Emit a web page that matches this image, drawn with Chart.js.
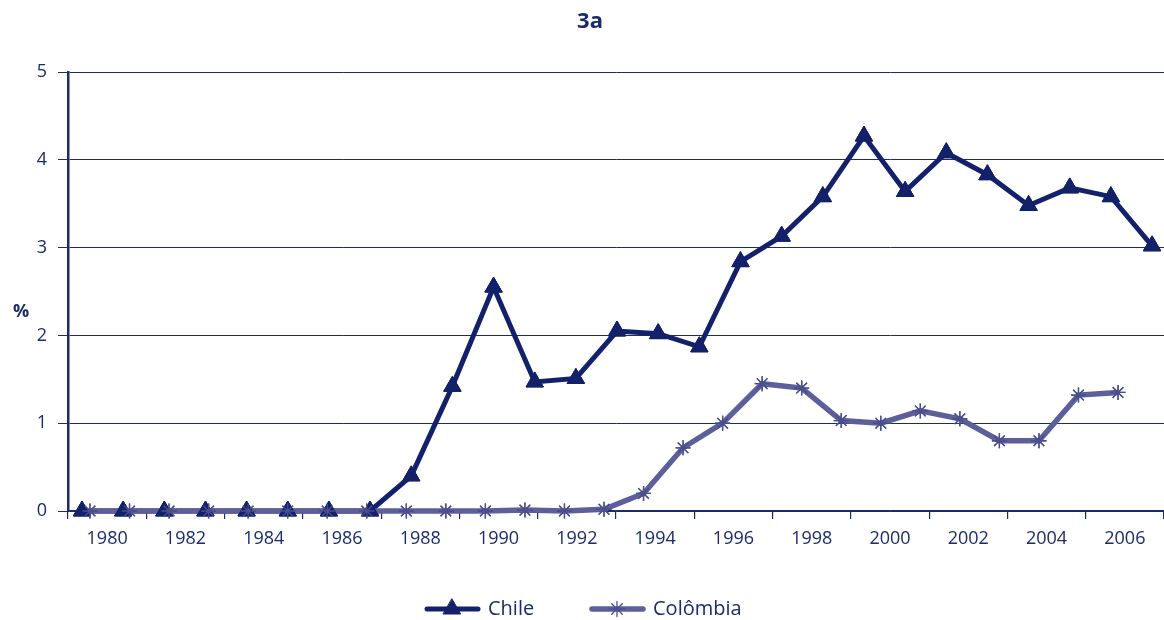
<!DOCTYPE html>
<html><head><meta charset="utf-8">
<script src="https://cdn.jsdelivr.net/npm/chart.js@4.4.1/dist/chart.umd.min.js"></script>
<style>html,body{margin:0;padding:0;background:#fff;}#wrap{width:1164px;height:620px;position:relative;}</style>
</head><body><div id="wrap"><canvas id="c" width="1164" height="620"></canvas></div>
<script>
const years = [1980,1981,1982,1983,1984,1985,1986,1987,1988,1989,1990,1991,1992,1993,1994,1995,1996,1997,1998,1999,2000,2001,2002,2003,2004,2005,2006];
const chile = [0,0,0,0,0,0,0,0,0.40,1.42,2.55,1.47,1.51,2.05,2.02,1.87,2.84,3.13,3.58,4.27,3.64,4.08,3.83,3.48,3.68,3.58,3.02];
const colombia = [0,0,0,0,0,0,0,0,0,0,0,0.01,0,0.02,0.20,0.72,1.00,1.45,1.40,1.03,1.00,1.14,1.05,0.80,0.80,1.32,1.35];
const tickLabels = ['1980','1982','1984','1986','1988','1990','1992','1994','1996','1998','2000','2002','2004','2006'];
const seriesNames = ['Chile','Colômbia'];
const chartTitle = '3a';
const yUnit = '%';

const NAVY = '#1b2b6b';
const CHILE_C = '#13216b';
const COL_C = '#5d5f9b';
const COL_PT = '#4a4f8c';
const FONT = "'Open Sans', 'Noto Sans', sans-serif";

const toXY = (arr) => arr.map((v, i) => ({x: years[i], y: v}));

const decor = {
  id: 'decor',
  afterDatasetsDraw(chart) {
    const ctx = chart.ctx;
    [0, 1].forEach(i => {
      chart.getDatasetMeta(i).data.forEach(p => p.draw(ctx, chart.chartArea));
    });
  },
  afterDraw(chart) {
    const ctx = chart.ctx;
    ctx.save();
    ctx.fillStyle = NAVY;
    ctx.textBaseline = 'middle';
    ctx.textAlign = 'center';
    ctx.font = "bold 22px " + FONT;
    ctx.fillText(chartTitle, 590, 22);
    ctx.font = "bold 18px " + FONT;
    ctx.fillText(yUnit, 21, 312);
    const ly = 609;
    const ds = chart.data.datasets;
    const items = [
      {x0: 427, x1: 478, px: 452, tx: 488, d: ds[0]},
      {x0: 592, x1: 643, px: 617, tx: 653, d: ds[1]}
    ];
    items.forEach(it => {
      ctx.beginPath();
      ctx.strokeStyle = it.d.borderColor;
      ctx.lineWidth = it.d.borderWidth;
      ctx.lineCap = 'round';
      ctx.moveTo(it.x0, ly); ctx.lineTo(it.x1, ly); ctx.stroke();
      ctx.fillStyle = it.d.pointBackgroundColor;
      ctx.strokeStyle = it.d.pointBorderColor;
      ctx.lineWidth = it.d.pointBorderWidth;
      Chart.helpers.drawPoint(ctx, {pointStyle: it.d.pointStyle, radius: it.d.pointRadius, rotation: 0, borderWidth: it.d.pointBorderWidth}, it.px, ly);
      ctx.fillStyle = NAVY;
      ctx.textAlign = 'left';
      ctx.font = "20px " + FONT;
      ctx.fillText(it.d.label, it.tx, ly);
    });
    ctx.restore();
  }
};

new Chart(document.getElementById('c'), {
  type: 'line',
  data: {
    datasets: [
      {
        label: seriesNames[0], data: toXY(chile), xAxisID: 'xc', yAxisID: 'y',
        borderColor: CHILE_C, borderWidth: 5, backgroundColor: CHILE_C,
        pointStyle: 'triangle', pointRadius: 10, pointBackgroundColor: CHILE_C,
        pointBorderColor: CHILE_C, pointBorderWidth: 1, tension: 0, clip: false, order: 2
      },
      {
        label: seriesNames[1], data: toXY(colombia), xAxisID: 'xo', yAxisID: 'y',
        borderColor: COL_C, borderWidth: 5.5, backgroundColor: COL_C,
        pointStyle: 'star', pointRadius: 7.5, pointBackgroundColor: COL_PT,
        pointBorderColor: COL_PT, pointBorderWidth: 1.3, tension: 0, clip: false, order: 1
      }
    ]
  },
  options: {
    responsive: false, animation: false,
    layout: {autoPadding: false, padding: {left: 0, right: 0, top: 72, bottom: 59}},
    plugins: {legend: {display: false}, title: {display: false}, tooltip: {enabled: false}},
    scales: {
      x: {
        type: 'category', labels: tickLabels, position: 'bottom', offset: true,
        grid: {offset: true, drawOnChartArea: false, drawTicks: true, tickLength: 8, color: NAVY, lineWidth: 1.2},
        border: {display: true, color: NAVY, width: 1.5},
        ticks: {color: NAVY, font: {family: FONT, size: 18}, padding: 9, maxRotation: 0, autoSkip: false},
        afterFit(s) { s.height = 50; s.paddingLeft = 0; s.paddingRight = 0; }
      },
      xc: {type: 'linear', display: false, min: 1979.66, max: 2006.29},
      xo: {type: 'linear', display: false, min: 1979.444, max: 2007.163},
      y: {
        type: 'linear', min: 0, max: 5, position: 'left',
        grid: {color: NAVY, lineWidth: 1, tickLength: 10, drawTicks: true},
        border: {display: true, color: NAVY, width: 2.5},
        ticks: {stepSize: 1, color: NAVY, font: {family: FONT, size: 18}, padding: 11},
        afterFit(s) { s.width = 68; }
      }
    }
  },
  plugins: [decor]
});
</script></body></html>
